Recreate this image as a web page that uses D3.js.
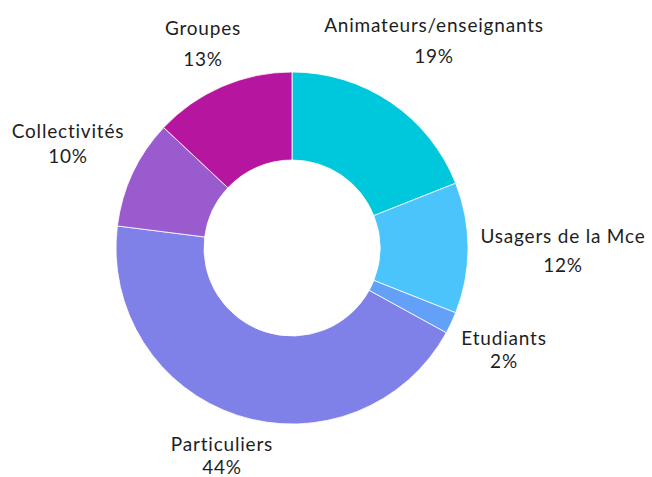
<!DOCTYPE html>
<html><head><meta charset="utf-8">
<script src="https://cdn.jsdelivr.net/npm/d3@7"></script>
<style>body{margin:0;background:#fff}svg{display:block}text{font-variant-ligatures:none}</style>
</head><body>
<script>
const categories = ["Animateurs/enseignants","Usagers de la Mce","Etudiants","Particuliers","Collectivités","Groupes"];
const values = [19, 12, 2, 44, 10, 13];
const colors = ["#00C8DC","#4BC4FB","#63A0F7","#7F80E8","#9A5BCF","#B5159F"];
// label anchor positions (layout)
const labelPos = [[434,25,56],[563,236,265],[504,338,361],[222,444,467],[68,131,156],[203,28,59]];

const W=652,H=477;
const svg=d3.select("body").append("svg").attr("width",W).attr("height",H);
const g=svg.append("g").attr("transform","translate(292,248)");
const pie=d3.pie().sort(null).value(d=>d);
const arc=d3.arc().innerRadius(88).outerRadius(176);
g.selectAll("path").data(pie(values)).join("path")
 .attr("d",arc).attr("fill",(d,i)=>colors[i]).attr("stroke","#fff").attr("stroke-width",0.8);
const lab=svg.append("g").attr("font-family","Lato, sans-serif").attr("font-weight",400).attr("font-size",19).attr("letter-spacing",0.8).attr("fill","#1e1e1e").attr("text-anchor","middle");
categories.forEach((c,i)=>{
  const p=labelPos[i];
  lab.append("text").attr("x",p[0]).attr("y",p[1]).attr("dy","0.35em").text(c);
  lab.append("text").attr("x",p[0]).attr("y",p[2]).attr("dy","0.35em").text(values[i]+"%");
});
</script>
</body></html>
